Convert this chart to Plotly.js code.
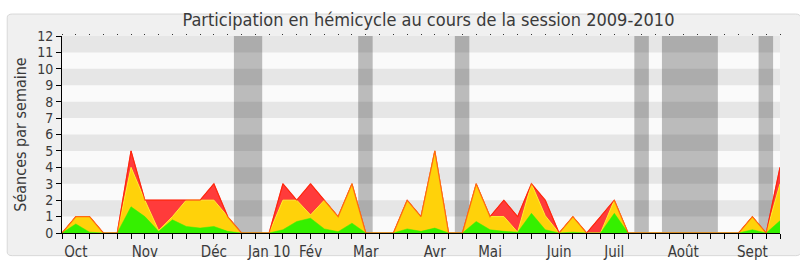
<!DOCTYPE html>
<html>
<head>
<meta charset="utf-8">
<script src="https://cdn.plot.ly/plotly-3.0.1.min.js"></script>
<style>
html,body{margin:0;padding:0;background:#ffffff;}
#chart{width:800px;height:267px;}
</style>
</head>
<body>
<div id="chart"></div>
<script>
// Week-by-week values, session 2009-2010 (53 weeks)
const seancesTotal = [0,1,1,0,0,5,2,2,2,2,2,3,1,0,0,0,3,2,3,2,1,3,0,0,0,2,1,5,0,0,3,1,2,1,3,2,0,1,0,1,2,0,0,0,0,0,0,0,0,0,1,0,4];
const seancesPresent = [0,1,1,0,0,4,2,0.15,1.0,2,2,2,1,0,0,0,2,2,1.1,2,1,3,0,0,0,2,1,5,0,0,3,1,1,0.05,3,1.05,0,1,0,0,2,0,0,0,0,0,0,0,0,0,1,0,3];
const seancesActif = [0,0.55,0.05,0,0,1.6,1.0,0.1,0.8,0.4,0.3,0.4,0.1,0,0,0,0.2,0.7,0.9,0.25,0.08,0.6,0,0,0,0.25,0.1,0.3,0,0,0.7,0.2,0.1,0.05,1.2,0.2,0,0.05,0,0,1.2,0,0,0,0,0,0,0,0,0,0.2,0,0.75];

// Month labels and the week index where they sit
const moisLabels = ["Oct","Nov","Déc","Jan 10","Fév","Mar","Avr","Mai","Juin","Juil","Août","Sept"];
const moisSemaines = [1,6,11,15,18,22,27,31,36,40,45,50];

// Parliamentary breaks (in week units)
const vacancesDebut = [12.45,21.45,28.45,41.45,43.45,50.45];
const vacancesFin   = [14.5,22.5,29.5,42.5,47.5,51.5];

const yTicks = [0,1,2,3,4,5,6,7,8,9,10,11,12];

const semaines = seancesTotal.map((_, i) => i);
const tickText = semaines.map(i => {
  const k = moisSemaines.indexOf(i);
  return k >= 0 ? moisLabels[k] : '';
});

const FONT = '"DejaVu Sans Condensed", "DejaVu Sans", sans-serif';

const traces = [
  {x: semaines, y: seancesTotal, type: 'scatter', mode: 'lines', fill: 'tozeroy',
   fillcolor: '#ff3b3b', line: {color: '#ff1a1a', width: 1}, hoverinfo: 'skip'},
  {x: semaines, y: seancesPresent, type: 'scatter', mode: 'lines', fill: 'tozeroy',
   fillcolor: '#ffd20a', line: {color: '#ffee33', width: 1}, hoverinfo: 'skip'},
  {x: semaines, y: seancesActif, type: 'scatter', mode: 'lines', fill: 'tozeroy',
   fillcolor: '#35f000', line: {color: '#35f000', width: 0.5}, hoverinfo: 'skip'},
  {x: semaines, y: seancesTotal, type: 'scatter', mode: 'lines',
   line: {color: 'rgba(255,40,0,0.65)', width: 1.2}, hoverinfo: 'skip'},
  {x: semaines, y: seancesTotal, type: 'scatter', mode: 'lines', xaxis: 'x2',
   line: {color: 'rgba(0,0,0,0)', width: 0}, hoverinfo: 'skip', showlegend: false}
];

const shapes = [];
// outer rounded frame
shapes.push({type: 'path', xref: 'paper', yref: 'paper', layer: 'below',
  path: 'M -0.0693 1.1115 L 1.0218 1.1115 Q 1.0288 1.1115 1.0288 1.0925 L 1.0288 -0.0961 Q 1.0288 -0.1150 1.0218 -0.1150 L -0.0693 -0.1150 Q -0.0763 -0.1150 -0.0763 -0.0961 L -0.0763 1.0925 Q -0.0763 1.1115 -0.0693 1.1115 Z',
  fillcolor: '#f0f0f0', line: {color: '#d8d8d8', width: 1}});
// plot area background
shapes.push({type: 'rect', xref: 'paper', yref: 'paper', layer: 'below',
  x0: 0, x1: 1, y0: 0, y1: 1, fillcolor: '#fafafa', line: {width: 0}});
// alternating stripes
for (let k = 1; k < yTicks.length - 1; k += 2) {
  shapes.push({type: 'rect', xref: 'paper', yref: 'y', layer: 'below',
    x0: 0, x1: 1, y0: yTicks[k], y1: yTicks[k + 1], fillcolor: '#e6e6e6', line: {width: 0}});
}
// breaks
vacancesDebut.forEach((d, i) => {
  shapes.push({type: 'rect', xref: 'x', yref: 'paper', layer: 'below',
    x0: d, x1: vacancesFin[i], y0: 0, y1: 1, fillcolor: 'rgba(0,0,0,0.25)', line: {width: 0}});
});

const layout = {
  width: 800, height: 267,
  margin: {l: 62, r: 20, t: 36, b: 34, pad: 0},
  paper_bgcolor: '#ffffff',
  plot_bgcolor: 'rgba(0,0,0,0)',
  showlegend: false,
  shapes: shapes,
  font: {family: FONT, color: '#3a3a3a'},
  title: {text: 'Participation en hémicycle au cours de la session 2009-2010',
    font: {family: FONT, size: 18, color: '#3a3a3a'},
    x: 0.5104, xanchor: 'center', xref: 'paper', y: 0.925, yanchor: 'middle'},
  xaxis: {range: [0, 52], tickvals: semaines, ticktext: tickText, tickangle: 0,
    ticks: 'outside', ticklen: 5, tickcolor: '#000', tickwidth: 1,
    showline: true, linecolor: '#000', linewidth: 1, showgrid: false, zeroline: false,
    tickfont: {family: FONT, size: 15, color: '#3a3a3a'}, fixedrange: true},
  xaxis2: {range: [0, 52], overlaying: 'x', side: 'top', tickvals: semaines,
    ticks: 'outside', ticklen: 1, tickcolor: '#333', tickwidth: 1,
    showticklabels: false, showline: false, showgrid: false, zeroline: false},
  yaxis: {range: [0, 12], tickvals: yTicks, ticks: 'outside', ticklen: 5,
    tickcolor: '#000', tickwidth: 1, showline: true, linecolor: '#000', linewidth: 1,
    showgrid: false, zeroline: false,
    tickfont: {family: FONT, size: 14, color: '#3a3a3a'},
    title: {text: 'Séances par semaine', font: {family: FONT, size: 16, color: '#3a3a3a'}, standoff: 6},
    fixedrange: true}
};

Plotly.newPlot('chart', traces, layout, {staticPlot: true, displayModeBar: false});
</script>
</body>
</html>
